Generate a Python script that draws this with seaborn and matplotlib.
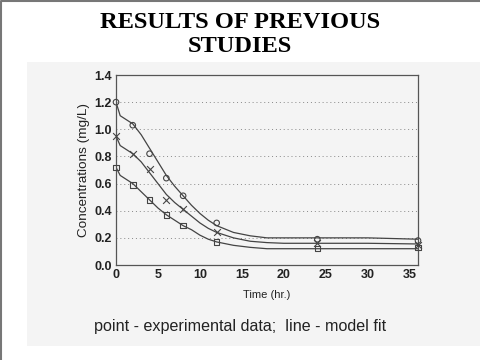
import matplotlib
matplotlib.use('Agg')
import matplotlib.pyplot as plt
import matplotlib.patches as patches
from matplotlib.ticker import MultipleLocator, FormatStrFormatter
import seaborn as sns

# Экспериментальные точки
t_exp = [0, 2, 4, 6, 8, 12, 24, 36]
c_diamond = [1.20, 1.03, 0.82, 0.64, 0.51, 0.31, 0.19, 0.18]
c_cross = [0.95, 0.82, 0.71, 0.48, 0.41, 0.24, 0.16, 0.15]
c_square = [0.72, 0.59, 0.48, 0.37, 0.29, 0.17, 0.12, 0.13]

# Кривые модели
t_fit = [0, 0.5, 1, 2, 3, 4, 5, 6, 7, 8, 9, 10, 11, 12, 14, 16, 18, 20, 24, 30, 36]
fit_diamond = [1.20, 1.10, 1.08, 1.04, 0.96, 0.86, 0.76, 0.66, 0.58, 0.51, 0.44,
               0.38, 0.33, 0.29, 0.24, 0.215, 0.20, 0.20, 0.20, 0.20, 0.19]
fit_cross = [0.95, 0.88, 0.86, 0.82, 0.76, 0.68, 0.60, 0.52, 0.46, 0.41, 0.36,
             0.31, 0.27, 0.24, 0.20, 0.175, 0.165, 0.16, 0.16, 0.16, 0.155]
fit_square = [0.72, 0.66, 0.64, 0.60, 0.54, 0.48, 0.42, 0.37, 0.33, 0.29, 0.26,
              0.22, 0.19, 0.17, 0.145, 0.13, 0.12, 0.12, 0.12, 0.12, 0.12]

series = [
    (c_diamond, fit_diamond, 'o'),
    (c_cross, fit_cross, 'x'),
    (c_square, fit_square, 's'),
]

sns.set_style('white')
plt.rcParams['text.color'] = 'black'
plt.rcParams['axes.labelcolor'] = '#222222'
plt.rcParams['xtick.color'] = '#222222'
plt.rcParams['ytick.color'] = '#222222'

fig = plt.figure(figsize=(4.8, 3.6), dpi=100)
fig.patch.set_facecolor('white')

# Серый фон отсканированной картинки и рамка слайда (только слева и сверху)
fig.patches.append(patches.Rectangle((27 / 480, 1 - 346 / 360), 453 / 480, 284 / 360,
                                     transform=fig.transFigure, facecolor='#f4f4f4',
                                     edgecolor='none', zorder=-2))
fig.lines.append(plt.Line2D([0.002, 0.002, 1.0], [0.0, 0.997, 0.997],
                            transform=fig.transFigure, color='#777777', lw=1.5))

fig.text(0.5, 1 - 22 / 360, 'RESULTS OF PREVIOUS', ha='center', va='center',
         fontsize=17.6, fontweight='bold', family='Liberation Serif')
fig.text(0.5, 1 - 47 / 360, 'STUDIES', ha='center', va='center',
         fontsize=17.6, fontweight='bold', family='Liberation Serif')

ax = fig.add_axes([116 / 480, 1 - 265 / 360, 302 / 480, 190 / 360])
ax.set_facecolor('#f4f4f4')

for c_pts, c_fit, mk in series:
    sns.lineplot(x=t_fit, y=c_fit, color='#444444', lw=0.9, ax=ax)
    if mk == 'x':
        sns.scatterplot(x=t_exp, y=c_pts, marker='x', color='#444444',
                        s=24, linewidth=0.8, ax=ax, zorder=3, clip_on=False)
    else:
        sns.scatterplot(x=t_exp, y=c_pts, marker=mk, facecolor='none',
                        edgecolor='#444444', s=16, linewidth=0.8, ax=ax,
                        zorder=3, clip_on=False)

ax.set_xlim(0, 36)
ax.set_ylim(0, 1.4)
ax.xaxis.set_major_locator(MultipleLocator(5))
ax.xaxis.set_minor_locator(MultipleLocator(1))
ax.yaxis.set_major_locator(MultipleLocator(0.2))
ax.yaxis.set_minor_locator(MultipleLocator(0.05))
ax.yaxis.set_major_formatter(FormatStrFormatter('%.1f'))
ax.tick_params(which='both', direction='in', color='#555555', pad=3)
ax.tick_params(which='major', length=4)
ax.tick_params(which='minor', length=2)
for lbl in ax.get_xticklabels() + ax.get_yticklabels():
    lbl.set_fontfamily('Liberation Sans')
    lbl.set_fontsize(9)
    lbl.set_fontweight('bold')
for y in [0.2, 0.4, 0.6, 0.8, 1.0, 1.2]:
    ax.axhline(y, color='#888888', lw=0.7, ls=(0, (1, 3)), zorder=1)
for sp in ax.spines.values():
    sp.set_color('#555555')
    sp.set_linewidth(0.9)

ax.set_xlabel('Time (hr.)', fontsize=8, family='Liberation Sans', labelpad=6)
ax.set_ylabel('Concentrations (mg/L)', fontsize=9.7, family='Liberation Sans',
              labelpad=3)

fig.text(0.5, 1 - 326 / 360, 'point - experimental data;  line - model fit',
         ha='center', va='center', fontsize=11.6, family='Liberation Sans',
         color='#222222')

fig.savefig('out.png', dpi=100)
